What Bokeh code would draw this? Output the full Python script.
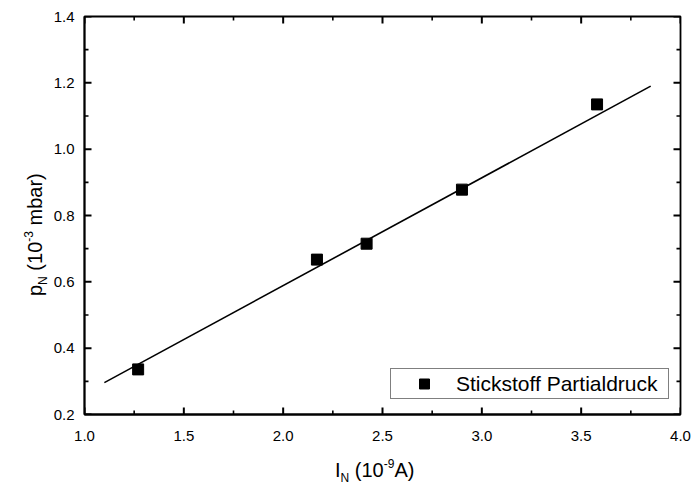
from bokeh.embed import file_html
from bokeh.layouts import column, row
from bokeh.models import (ColumnDataSource, Div, FixedTicker, Legend, LinearAxis,
                          NumeralTickFormatter, Range1d)
from bokeh.plotting import figure
from bokeh.resources import INLINE

# Measured nitrogen partial pressure against ion current
current = [1.27, 2.17, 2.42, 2.90, 3.58]          # I_N in 1e-9 A
pressure = [0.336, 0.667, 0.715, 0.878, 1.135]    # p_N in 1e-3 mbar

# Linear fit through the measurements (end points of the drawn line)
fit_current = [1.10, 3.85]
fit_pressure = [0.296, 1.19]

series_name = "Stickstoff Partialdruck"

# Tick positions
x_major = [1.0, 1.5, 2.0, 2.5, 3.0, 3.5, 4.0]
x_minor = [1.25, 1.75, 2.25, 2.75, 3.25, 3.75]
y_major = [0.2, 0.4, 0.6, 0.8, 1.0, 1.2, 1.4]
y_minor = [0.3, 0.5, 0.7, 0.9, 1.1, 1.3]

X_MIN, X_MAX = 1.0, 4.0
Y_MIN, Y_MAX = 0.2, 1.4

FONT = "Liberation Sans"
W, H = 691, 488
YTITLE_W = 48          # strip left of the plot holding the vertical title
XTITLE_H = 28          # strip below the plot holding the horizontal title
FIG_W, FIG_H = W - YTITLE_W, H - XTITLE_H
LEFT, RIGHT, TOP, BOTTOM = 36, 11, 16, 46
FW = FIG_W - LEFT - RIGHT
FH = FIG_H - TOP - BOTTOM

p = figure(width=FIG_W, height=FIG_H, output_backend="svg", toolbar_location=None,
           x_range=Range1d(X_MIN, X_MAX), y_range=Range1d(Y_MIN, Y_MAX),
           x_axis_type=None, y_axis_type=None,
           min_border_left=LEFT, min_border_right=RIGHT,
           min_border_top=TOP, min_border_bottom=BOTTOM, margin=0)
p.outline_line_color = "black"
p.outline_line_width = 1.8
p.background_fill_color = "white"
p.border_fill_color = "white"
p.xgrid.visible = False
p.ygrid.visible = False


def make_axis(major):
    ax = LinearAxis(ticker=FixedTicker(ticks=major))
    ax.axis_line_color = "black"
    ax.axis_line_width = 1.8
    ax.major_tick_line_color = None
    ax.minor_tick_line_color = None
    ax.major_tick_in = 0
    ax.major_tick_out = 0
    ax.formatter = NumeralTickFormatter(format="0.0")
    ax.major_label_text_font = FONT
    ax.major_label_text_font_size = "15px"
    ax.major_label_text_color = "black"
    return ax


bottom_axis = make_axis(x_major)
bottom_axis.major_label_standoff = 16
left_axis = make_axis(y_major)
left_axis.major_label_standoff = 10
p.add_layout(bottom_axis, "below")
p.add_layout(left_axis, "left")

# Inward ticks on all four sides, drawn as short segments just inside the frame
dx = (X_MAX - X_MIN) / FW      # data units per pixel
dy = (Y_MAX - Y_MIN) / FH
INSET = 0.5                    # start half a pixel inside the frame edge
ticks = dict(x0=[], y0=[], x1=[], y1=[], w=[])


def add_tick(x0, y0, x1, y1, w):
    ticks["x0"].append(x0)
    ticks["y0"].append(y0)
    ticks["x1"].append(x1)
    ticks["y1"].append(y1)
    ticks["w"].append(w)


for pos, length, w in ((x_major, 7, 2.0), (x_minor, 4, 1.6)):
    for x in pos:
        add_tick(x, Y_MIN + INSET * dy, x, Y_MIN + length * dy, w)
        add_tick(x, Y_MAX - INSET * dy, x, Y_MAX - length * dy, w)
for pos, length, w in ((y_major, 7, 2.0), (y_minor, 4, 1.6)):
    for y in pos:
        add_tick(X_MIN + INSET * dx, y, X_MIN + length * dx, y, w)
        add_tick(X_MAX - INSET * dx, y, X_MAX - length * dx, y, w)

p.segment(x0="x0", y0="y0", x1="x1", y1="y1", line_width="w",
          line_color="black", source=ColumnDataSource(ticks))

# Fit line and measured points
p.line(fit_current, fit_pressure, line_color="black", line_width=1.6)
pts = p.scatter(current, pressure, marker="square", size=11,
                fill_color="black", line_color="black")

legend = Legend(items=[(series_name, [pts])], location=(306, 15))
legend.label_text_font = FONT
legend.label_text_font_size = "21px"
legend.label_text_color = "black"
legend.padding = 2
legend.margin = 0
legend.spacing = 0
legend.glyph_width = 62
legend.glyph_height = 25
legend.label_standoff = 1
legend.label_width = 210
legend.label_height = 23
legend.border_line_color = "black"
legend.border_line_width = 1.4
legend.background_fill_color = "white"
legend.background_fill_alpha = 1.0
p.add_layout(legend, "center")

# Axis titles with subscripts and superscripts
TEXT_CSS = (f"position:absolute; white-space:nowrap; font-family:'{FONT}'; "
            "font-size:20px; line-height:20px; color:black;")
SUB = "font-size:12px; line-height:0; vertical-align:-5px;"
SUP = "font-size:12px; line-height:0; vertical-align:9px;"

x_title = (f'<div style="{TEXT_CSS} left:287px; top:0px;">'
           f'I<span style="{SUB}">N</span> (10<span style="{SUP}">-9</span>A)</div>')
y_title = (f'<div style="{TEXT_CSS} left:25px; top:296px; '
           'transform:rotate(-90deg); transform-origin:0 0;">'
           f'p<span style="{SUB}">N</span> (10<span style="{SUP}">-3</span> mbar)</div>')

x_div = Div(text=x_title, width=FIG_W, height=XTITLE_H, margin=0,
            styles={"position": "relative", "overflow": "visible"})
y_div = Div(text=y_title, width=YTITLE_W, height=H, margin=0,
            styles={"position": "relative", "overflow": "visible"})

page = row(y_div, column(p, x_div, spacing=0, margin=0), spacing=0, margin=0)

open("out.html", "w").write(file_html(page, INLINE))
